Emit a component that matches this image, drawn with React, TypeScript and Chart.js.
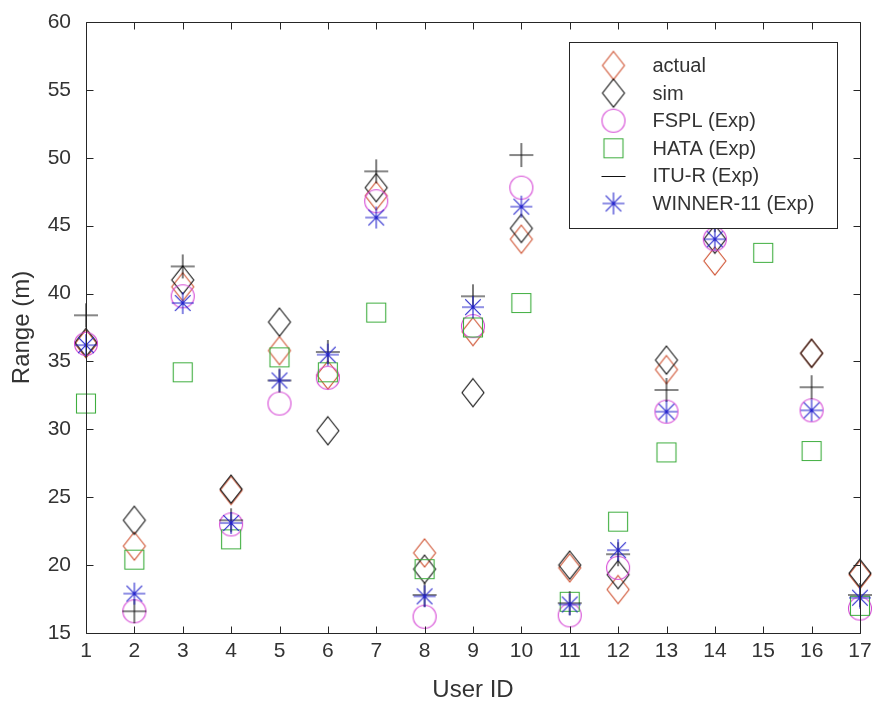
import React, { useEffect, useRef } from "react";
import { Chart, registerables } from "chart.js";

Chart.register(...registerables);

// ---------- data ----------
const userIds = [1, 2, 3, 4, 5, 6, 7, 8, 9, 10, 11, 12, 13, 14, 15, 16, 17];
const xTickValues = [1, 2, 3, 4, 5, 6, 7, 8, 9, 10, 11, 12, 13, 14, 15, 16, 17];
const yTickValues = [15, 20, 25, 30, 35, 40, 45, 50, 55, 60];

const actual = [36.3, 21.4, 40.5, 25.5, 35.8, 34.0, 47.2, 20.9, 37.2, 44.0, 19.8, 18.2, 34.4, 42.4, null, 35.6, 19.3];
const sim = [36.4, 23.3, 41.0, 25.6, 37.9, 29.9, 47.8, 19.7, 32.7, 44.8, 20.0, 19.3, 35.1, 44.0, null, 35.6, 19.4];
const fspl = [36.3, 16.6, 39.8, 23.0, 31.9, 33.8, 46.8, 16.2, 37.6, 47.8, 16.3, 19.8, 31.3, 44.0, null, 31.4, 16.8];
const hata = [31.9, 20.4, 34.2, 21.9, 35.3, 34.2, 38.6, 19.7, 37.5, 39.3, 17.3, 23.2, 28.3, null, 43.0, 28.4, 17.0];
const itur = [38.4, 16.6, 42.0, 23.3, 33.6, 35.7, 49.0, 17.8, 39.8, 50.2, 17.2, 20.8, 32.9, 45.4, null, 33.1, 17.8];
const winner = [36.2, 17.9, 39.3, 23.1, 33.6, 35.5, 45.6, 17.7, 39.0, 46.4, 17.1, 21.1, 31.3, 44.0, null, 31.4, 17.6];

const seriesNames = ["actual", "sim", "FSPL (Exp)", "HATA (Exp)", "ITU-R (Exp)", "WINNER-11 (Exp)"];
const seriesValues = [actual, sim, fspl, hata, itur, winner];
const seriesColors = ["#cf5130", "#111111", "#d64ad6", "#3fae3f", "#111111", "#2222cc"];
const seriesMarkers = ["diamond", "diamond", "circle", "square", "plus", "star"];

const FONT = "'Liberation Sans', Arial, Helvetica, sans-serif";
const TEXT_COLOR = "#333333";
const AXIS_COLOR = "#262626";

function makeMarker(kind: string, color: string): HTMLCanvasElement {
  const c = document.createElement("canvas");
  c.width = 32;
  c.height = 32;
  const g = c.getContext("2d")!;
  g.strokeStyle = color;
  g.lineWidth = 1.1;
  const m = 16;
  g.beginPath();
  if (kind === "diamond") {
    g.moveTo(m, m - 14);
    g.lineTo(m + 11, m);
    g.lineTo(m, m + 14);
    g.lineTo(m - 11, m);
    g.closePath();
  } else if (kind === "circle") {
    g.arc(m, m, 11.5, 0, Math.PI * 2);
  } else if (kind === "square") {
    g.rect(m - 9.5, m - 9.5, 19, 19);
  } else if (kind === "plus") {
    g.moveTo(m - 12, m);
    g.lineTo(m + 12, m);
    g.moveTo(m, m - 12);
    g.lineTo(m, m + 12);
  } else if (kind === "star") {
    const r = 11;
    const d = r * Math.SQRT1_2;
    g.moveTo(m - r, m);
    g.lineTo(m + r, m);
    g.moveTo(m, m - r);
    g.lineTo(m, m + r);
    g.moveTo(m - d, m - d);
    g.lineTo(m + d, m + d);
    g.moveTo(m - d, m + d);
    g.lineTo(m + d, m - d);
  }
  g.stroke();
  return c;
}

export default function App() {
  const ref = useRef<HTMLCanvasElement>(null);

  useEffect(() => {
    if (!ref.current) return;
    const markers = seriesMarkers.map((k, i) => makeMarker(k, seriesColors[i]));

    const framePlugin = {
      id: "frameAndLegend",
      afterDatasetsDraw(chart: any) {
        const { ctx, chartArea } = chart;
        const xs = chart.scales.x;
        const ys = chart.scales.y;
        const L = Math.round(chartArea.left) + 0.5;
        const R = Math.round(chartArea.right) + 0.5;
        const T = Math.round(chartArea.top) + 0.5;
        const B = Math.round(chartArea.bottom) + 0.5;
        ctx.save();
        ctx.strokeStyle = AXIS_COLOR;
        ctx.lineWidth = 1;
        ctx.beginPath();
        ctx.rect(L, T, R - L, B - T);
        const tl = 7;
        xTickValues.forEach((v) => {
          const px = Math.round(xs.getPixelForValue(v)) + 0.5;
          ctx.moveTo(px, B);
          ctx.lineTo(px, B - tl);
          ctx.moveTo(px, T);
          ctx.lineTo(px, T + tl);
        });
        yTickValues.forEach((v) => {
          const py = Math.round(ys.getPixelForValue(v)) + 0.5;
          ctx.moveTo(L, py);
          ctx.lineTo(L + tl, py);
          ctx.moveTo(R, py);
          ctx.lineTo(R - tl, py);
        });
        ctx.stroke();

        // legend
        const boxL = Math.round(chartArea.right - 291) + 0.5;
        const boxR = Math.round(chartArea.right - 23) + 0.5;
        const boxT = Math.round(chartArea.top + 20) + 0.5;
        const boxB = Math.round(chartArea.top + 206) + 0.5;
        ctx.fillStyle = "#ffffff";
        ctx.fillRect(boxL, boxT, boxR - boxL, boxB - boxT);
        ctx.strokeStyle = AXIS_COLOR;
        ctx.strokeRect(boxL, boxT, boxR - boxL, boxB - boxT);
        ctx.font = `20px ${FONT}`;
        ctx.fillStyle = TEXT_COLOR;
        ctx.textBaseline = "middle";
        ctx.textAlign = "left";
        seriesNames.forEach((name, i) => {
          const cy = boxT + 23 + i * 27.6;
          const mx = boxL + 44;
          if (seriesMarkers[i] === "plus") {
            ctx.strokeStyle = seriesColors[i];
            ctx.beginPath();
            ctx.moveTo(mx - 12, Math.round(cy) + 0.5);
            ctx.lineTo(mx + 12, Math.round(cy) + 0.5);
            ctx.stroke();
          } else {
            const mk = markers[i];
            ctx.drawImage(mk, mx - mk.width / 2, cy - mk.height / 2);
          }
          ctx.fillText(name, boxL + 83, cy + 1);
        });
        ctx.restore();
      },
    };

    const datasets = seriesValues.map((vals, i) => ({
      label: seriesNames[i],
      data: userIds
        .map((u, j) => ({ x: u, y: vals[j] }))
        .filter((p) => p.y !== null && p.y !== undefined),
      pointStyle: markers[i],
      pointRadius: 12,
      showLine: false,
      clip: false as any,
      order: seriesNames.length - i,
    }));

    const chart = new Chart(ref.current, {
      type: "scatter",
      data: { datasets: datasets as any },
      options: {
        responsive: false,
        animation: false,
        layout: { padding: { top: 22, right: 15, left: 0, bottom: 0 } },
        plugins: {
          legend: { display: false },
          tooltip: { enabled: false },
        },
        scales: {
          x: {
            type: "linear",
            min: 1,
            max: 17,
            afterBuildTicks: (s: any) => {
              s.ticks = xTickValues.map((v) => ({ value: v }));
            },
            afterFit: (s: any) => {
              s.height = 78;
              s.paddingLeft = 0;
              s.paddingRight = 0;
            },
            grid: { display: false, drawTicks: false },
            border: { display: false },
            ticks: {
              font: { family: FONT, size: 21 },
              color: TEXT_COLOR,
              padding: 6,
              maxRotation: 0,
              autoSkip: false,
            },
            title: {
              display: true,
              text: "User ID",
              font: { family: FONT, size: 24 },
              color: TEXT_COLOR,
              padding: { top: 0, bottom: 6 },
            },
          },
          y: {
            type: "linear",
            min: 15,
            max: 60,
            afterBuildTicks: (s: any) => {
              s.ticks = yTickValues.map((v) => ({ value: v }));
            },
            afterFit: (s: any) => {
              s.width = 86;
              s.paddingTop = 0;
              s.paddingBottom = 0;
            },
            grid: { display: false, drawTicks: false },
            border: { display: false },
            ticks: {
              font: { family: FONT, size: 21 },
              color: TEXT_COLOR,
              padding: 15,
            },
            title: {
              display: true,
              text: "Range (m)",
              font: { family: FONT, size: 24 },
              color: TEXT_COLOR,
              padding: { top: 8, bottom: 0 },
            },
          },
        },
      },
      plugins: [framePlugin],
    });

    return () => chart.destroy();
  }, []);

  return (
    <div style={{ position: "absolute", left: 0, top: 0, width: 875, height: 711, background: "#fff" }}>
      <canvas ref={ref} width={875} height={711} style={{ display: "block" }} />
    </div>
  );
}
